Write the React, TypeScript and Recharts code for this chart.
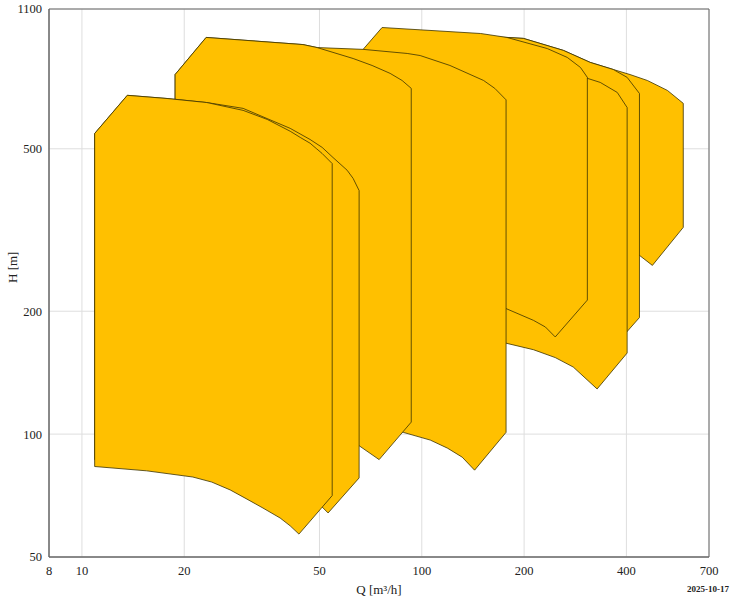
import React from "react";
import {
  CartesianGrid,
  ReferenceArea,
  Scatter,
  ScatterChart,
  XAxis,
  YAxis,
} from "recharts";

type Pt = { q: number; h: number };

const qTicks = [8, 10, 20, 50, 100, 200, 400, 700];
const hTicks = [50, 100, 200, 500, 1100];

// pump envelopes, outline order, Q [m3/h] / H [m]
const env1: Pt[] = [
  { q: 10.9, h: 83.3 },
  { q: 10.9, h: 545 },
  { q: 13.6, h: 676 },
  { q: 17.8, h: 664 },
  { q: 23.3, h: 649 },
  { q: 29.8, h: 621 },
  { q: 35.1, h: 590 },
  { q: 41.0, h: 552 },
  { q: 43.9, h: 533 },
  { q: 46.9, h: 516 },
  { q: 48.9, h: 501 },
  { q: 50.9, h: 487 },
  { q: 54.5, h: 460 },
  { q: 54.5, h: 70.7 },
  { q: 43.5, h: 56.9 },
  { q: 41.0, h: 59.6 },
  { q: 38.3, h: 62.3 },
  { q: 34.1, h: 65.9 },
  { q: 30.6, h: 69.3 },
  { q: 27.3, h: 73 },
  { q: 24.1, h: 76.3 },
  { q: 21.2, h: 78.5 },
  { q: 15.5, h: 81.3 },
];

const env1b: Pt[] = [
  { q: 10.9, h: 86.6 },
  { q: 10.9, h: 545 },
  { q: 13.6, h: 676 },
  { q: 17.8, h: 664 },
  { q: 23.3, h: 649 },
  { q: 29.8, h: 628 },
  { q: 41.0, h: 561 },
  { q: 46.9, h: 527 },
  { q: 50.9, h: 504 },
  { q: 54.8, h: 476 },
  { q: 60.3, h: 443 },
  { q: 62.8, h: 423 },
  { q: 65.4, h: 395 },
  { q: 65.4, h: 78.1 },
  { q: 53.0, h: 64.1 },
  { q: 48.6, h: 68.9 },
  { q: 41.0, h: 71.5 },
  { q: 30.6, h: 76.3 },
  { q: 22.3, h: 80.5 },
];

const env2: Pt[] = [
  { q: 18.8, h: 121 },
  { q: 18.8, h: 760 },
  { q: 23.2, h: 937 },
  { q: 44.7, h: 900 },
  { q: 49.2, h: 885 },
  { q: 62.8, h: 832 },
  { q: 71.4, h: 800 },
  { q: 80.7, h: 765 },
  { q: 87.5, h: 735 },
  { q: 93.1, h: 703 },
  { q: 93.1, h: 107 },
  { q: 74.9, h: 86.6 },
  { q: 65.0, h: 94 },
  { q: 57.5, h: 99.4 },
  { q: 43.9, h: 108 },
  { q: 31.2, h: 114.5 },
];

const env2b: Pt[] = [
  { q: 18.8, h: 132 },
  { q: 18.8, h: 760 },
  { q: 23.2, h: 937 },
  { q: 44.7, h: 900 },
  { q: 49.2, h: 885 },
  { q: 67.2, h: 876 },
  { q: 90.6, h: 856 },
  { q: 98.9, h: 846 },
  { q: 121, h: 800 },
  { q: 152, h: 735 },
  { q: 164, h: 703 },
  { q: 177, h: 659 },
  { q: 177, h: 101 },
  { q: 143, h: 81.6 },
  { q: 131.5, h: 87.8 },
  { q: 119, h: 92.4 },
  { q: 105.9, h: 96.7 },
  { q: 88.2, h: 101 },
  { q: 65.0, h: 108 },
  { q: 43.9, h: 113 },
];

const env3: Pt[] = [
  { q: 67.2, h: 223 },
  { q: 67.2, h: 876 },
  { q: 76.4, h: 991 },
  { q: 149, h: 958 },
  { q: 178, h: 937 },
  { q: 234, h: 880 },
  { q: 268, h: 837 },
  { q: 293, h: 791 },
  { q: 307, h: 748 },
  { q: 307, h: 213 },
  { q: 247, h: 173 },
  { q: 231, h: 183 },
  { q: 213, h: 190 },
  { q: 177, h: 203 },
  { q: 121, h: 213 },
];

const env3b: Pt[] = [
  { q: 67.2, h: 185 },
  { q: 67.2, h: 870 },
  { q: 76.4, h: 985 },
  { q: 149, h: 952 },
  { q: 178, h: 931 },
  { q: 234, h: 870 },
  { q: 268, h: 827 },
  { q: 293, h: 782 },
  { q: 307, h: 744 },
  { q: 335, h: 727 },
  { q: 376, h: 687 },
  { q: 402, h: 631 },
  { q: 402, h: 158 },
  { q: 328, h: 129 },
  { q: 279, h: 146 },
  { q: 247, h: 154 },
  { q: 213, h: 161 },
  { q: 177, h: 167 },
  { q: 121, h: 177 },
];

const env4: Pt[] = [
  { q: 113, h: 238 },
  { q: 113, h: 921 },
  { q: 139, h: 947 },
  { q: 178, h: 937 },
  { q: 199, h: 932 },
  { q: 261, h: 871 },
  { q: 313, h: 814 },
  { q: 366, h: 782 },
  { q: 402, h: 748 },
  { q: 437, h: 683 },
  { q: 437, h: 193 },
  { q: 363, h: 162 },
  { q: 283, h: 192 },
  { q: 195, h: 213 },
];

const env5: Pt[] = [
  { q: 170, h: 353 },
  { q: 170, h: 921 },
  { q: 178, h: 937 },
  { q: 199, h: 932 },
  { q: 261, h: 871 },
  { q: 313, h: 814 },
  { q: 366, h: 782 },
  { q: 410, h: 760 },
  { q: 461, h: 735 },
  { q: 528, h: 695 },
  { q: 588, h: 646 },
  { q: 588, h: 321 },
  { q: 477, h: 259 },
  { q: 384, h: 298 },
  { q: 256, h: 334 },
];

// back to front
const envelopes = [env5, env4, env3b, env3, env2b, env2, env1b, env1];

const FONT = "'Liberation Serif', 'DejaVu Serif', serif";

const outline = (p: any) => (
  <polygon
    points={p.points.map((pt: any) => `${pt.x},${pt.y}`).join(" ")}
    fill="#FFC000"
    stroke="#3b3200"
    strokeWidth={0.8}
    strokeLinejoin="round"
  />
);

export default function App() {
  return (
    <div
      style={{
        position: "absolute",
        left: 0,
        top: 0,
        width: 731,
        height: 600,
        background: "#fff",
        overflow: "hidden",
      }}
    >
      <ScatterChart
        width={731}
        height={600}
        margin={{ top: 9, right: 22, bottom: 0, left: 0 }}
      >
        <CartesianGrid stroke="#dedede" />
        <XAxis
          type="number"
          dataKey="q"
          scale="log"
          domain={[8, 700]}
          ticks={qTicks}
          interval={0}
          allowDataOverflow
          height={43}
          tickLine={false}
          tickMargin={3.5}
          stroke="#666"
          tick={{ fill: "#222", fontSize: 12.5, fontFamily: FONT }}
          label={{
            value: "Q [m³/h]",
            position: "insideBottom",
            offset: 6,
            fill: "#222",
            fontSize: 13,
            fontFamily: FONT,
          }}
        />
        <YAxis
          type="number"
          dataKey="h"
          scale="log"
          domain={[50, 1100]}
          ticks={hTicks}
          interval={0}
          allowDataOverflow
          width={49}
          tickLine={false}
          tickMargin={1}
          stroke="#666"
          tick={{ fill: "#222", fontSize: 12.5, fontFamily: FONT }}
          label={{
            value: "H [m]",
            angle: -90,
            position: "insideLeft",
            offset: 12,
            fill: "#222",
            fontSize: 13,
            fontFamily: FONT,
          }}
        />
        {envelopes.map((env, i) => (
          <Scatter
            key={i}
            data={env}
            line={outline}
            shape={() => <g />}
            isAnimationActive={false}
          />
        ))}
        <ReferenceArea
          x1={8}
          x2={700}
          y1={50}
          y2={1100}
          fill="none"
          stroke="#666"
          strokeWidth={1}
        />
      </ScatterChart>
      <div
        style={{
          position: "absolute",
          right: 2,
          top: 584,
          fontFamily: FONT,
          fontWeight: "bold",
          fontSize: 9,
          color: "#222",
        }}
      >
        2025-10-17
      </div>
    </div>
  );
}
